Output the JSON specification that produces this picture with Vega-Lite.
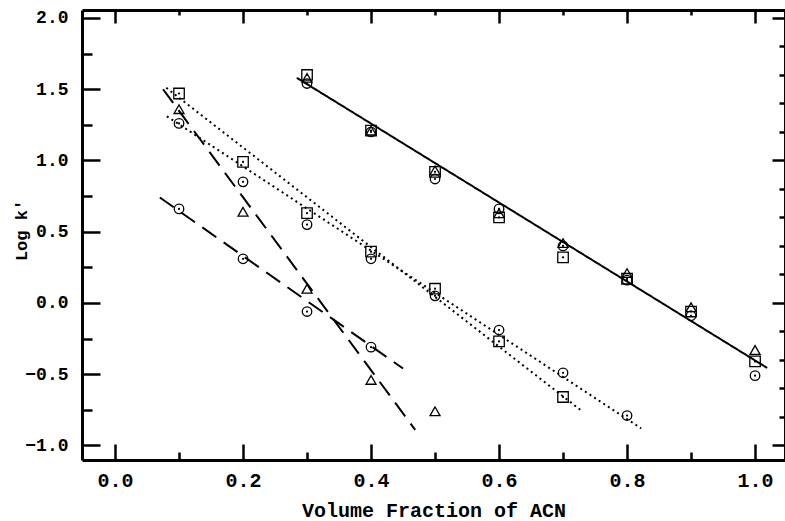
{
  "$schema": "https://vega.github.io/schema/vega-lite/v6.json",
  "autosize": "none",
  "width": 703,
  "height": 450,
  "padding": {"left": 82, "top": 10, "right": 0, "bottom": 61},
  "background": "white",
  "config": {
    "view": {"stroke": null},
    "axis": {
      "domainColor": "black", "domainWidth": 3, "tickColor": "black", "tickWidth": 2.5,
      "labelFont": "Liberation Mono", "labelFontWeight": "bold", "labelColor": "black",
      "titleFont": "Liberation Mono", "titleFontWeight": "bold", "titleColor": "black",
      "grid": false
    }
  },
  "datasets": {
    "lines": [
      {"line": "solid", "style": "solid", "x": 0.284, "y": 1.58},
      {"line": "solid", "style": "solid", "x": 1.019, "y": -0.456},
      {"line": "dot_sq", "style": "dotted", "x": 0.080, "y": 1.51},
      {"line": "dot_sq", "style": "dotted", "x": 0.727, "y": -0.75},
      {"line": "dot_ci", "style": "dotted", "x": 0.081, "y": 1.31},
      {"line": "dot_ci", "style": "dotted", "x": 0.822, "y": -0.88},
      {"line": "dash_tr", "style": "dashed", "x": 0.075, "y": 1.50},
      {"line": "dash_tr", "style": "dashed", "x": 0.469, "y": -0.89},
      {"line": "dash_ci", "style": "dashed", "x": 0.070, "y": 0.74},
      {"line": "dash_ci", "style": "dashed", "x": 0.450, "y": -0.46}
    ],
    "points": [
      {"x": 0.3, "y": 1.60, "m": "square"}, {"x": 0.4, "y": 1.21, "m": "square"}, {"x": 0.5, "y": 0.92, "m": "square"}, {"x": 0.6, "y": 0.60, "m": "square"}, {"x": 0.7, "y": 0.32, "m": "square"}, {"x": 0.8, "y": 0.17, "m": "square"}, {"x": 0.9, "y": -0.06, "m": "square"}, {"x": 1.0, "y": -0.41, "m": "square"},
      {"x": 0.3, "y": 1.58, "m": "triangle"}, {"x": 0.4, "y": 1.21, "m": "triangle"}, {"x": 0.5, "y": 0.93, "m": "triangle"}, {"x": 0.6, "y": 0.63, "m": "triangle"}, {"x": 0.7, "y": 0.42, "m": "triangle"}, {"x": 0.8, "y": 0.21, "m": "triangle"}, {"x": 0.9, "y": -0.03, "m": "triangle"}, {"x": 1.0, "y": -0.33, "m": "triangle"},
      {"x": 0.3, "y": 1.54, "m": "circle"}, {"x": 0.4, "y": 1.20, "m": "circle"}, {"x": 0.5, "y": 0.87, "m": "circle"}, {"x": 0.6, "y": 0.66, "m": "circle"}, {"x": 0.7, "y": 0.40, "m": "circle"}, {"x": 0.8, "y": 0.16, "m": "circle"}, {"x": 0.9, "y": -0.09, "m": "circle"}, {"x": 1.0, "y": -0.51, "m": "circle"},
      {"x": 0.1, "y": 1.36, "m": "triangle"}, {"x": 0.2, "y": 0.64, "m": "triangle"}, {"x": 0.3, "y": 0.10, "m": "triangle"}, {"x": 0.4, "y": -0.54, "m": "triangle"}, {"x": 0.5, "y": -0.76, "m": "triangle"},
      {"x": 0.1, "y": 0.66, "m": "circle"}, {"x": 0.2, "y": 0.31, "m": "circle"}, {"x": 0.3, "y": -0.06, "m": "circle"}, {"x": 0.4, "y": -0.31, "m": "circle"},
      {"x": 0.1, "y": 1.47, "m": "square"}, {"x": 0.2, "y": 0.99, "m": "square"}, {"x": 0.3, "y": 0.63, "m": "square"}, {"x": 0.4, "y": 0.36, "m": "square"}, {"x": 0.5, "y": 0.10, "m": "square"}, {"x": 0.6, "y": -0.27, "m": "square"}, {"x": 0.7, "y": -0.66, "m": "square"},
      {"x": 0.1, "y": 1.26, "m": "circle"}, {"x": 0.2, "y": 0.85, "m": "circle"}, {"x": 0.3, "y": 0.55, "m": "circle"}, {"x": 0.4, "y": 0.31, "m": "circle"}, {"x": 0.5, "y": 0.05, "m": "circle"}, {"x": 0.6, "y": -0.19, "m": "circle"}, {"x": 0.7, "y": -0.49, "m": "circle"}, {"x": 0.8, "y": -0.79, "m": "circle"}
    ]
  },
  "resolve": {"axis": {"x": "independent", "y": "independent"}},
  "layer": [
    {
      "data": {"name": "lines"},
      "mark": {"type": "line", "color": "black", "strokeWidth": 2},
      "encoding": {
        "x": {"field": "x", "type": "quantitative", "scale": {"domain": [-0.0516, 1.0468], "nice": false, "zero": false},
          "axis": {"orient": "bottom", "title": "Volume Fraction of ACN", "values": [0, 0.1, 0.2, 0.3, 0.4, 0.5, 0.6, 0.7, 0.8, 0.9, 1.0],
            "tickSize": {"condition": {"test": "round(datum.value*10) % 2 == 0", "value": -16}, "value": -8},
            "labelExpr": "round(datum.value*10) % 2 == 0 ? format(datum.value, '.1f') : ''",
            "labelFontSize": 20, "labelPadding": 26, "titleFontSize": 20, "titlePadding": 10}},
        "y": {"field": "y", "type": "quantitative", "scale": {"domain": [-1.102, 2.056], "nice": false, "zero": false},
          "axis": {"orient": "left", "title": "Log k'", "values": [-1, -0.75, -0.5, -0.25, 0, 0.25, 0.5, 0.75, 1, 1.25, 1.5, 1.75, 2],
            "tickSize": {"condition": {"test": "round(datum.value*4) % 2 == 0", "value": -18}, "value": -10},
            "labelExpr": "round(datum.value*4) % 2 == 0 ? format(datum.value, '.1f') : ''",
            "labelFontSize": 18, "labelPadding": 32, "titleFontSize": 17, "titlePadding": -6, "titleY": 220}},
        "detail": {"field": "line"},
        "strokeDash": {"field": "style", "type": "nominal", "scale": {"domain": ["solid", "dotted", "dashed"], "range": [[1, 0], [2, 3.5], [17, 9]]}, "legend": null}
      }
    },
    {
      "data": {"name": "points"},
      "mark": {"type": "point", "filled": false, "color": "black", "strokeWidth": 1.3, "opacity": 1},
      "encoding": {
        "x": {"field": "x", "type": "quantitative", "scale": {"domain": [-0.0516, 1.0468], "nice": false, "zero": false},
          "axis": {"orient": "top", "title": null, "labels": false, "values": [0, 0.1, 0.2, 0.3, 0.4, 0.5, 0.6, 0.7, 0.8, 0.9, 1.0],
            "tickSize": {"condition": {"test": "round(datum.value*10) % 2 == 0", "value": -13}, "value": -5}}},
        "y": {"field": "y", "type": "quantitative", "scale": {"domain": [-1.102, 2.056], "nice": false, "zero": false},
          "axis": {"orient": "right", "title": null, "labels": false, "values": [-1, -0.8, -0.6, -0.4, -0.2, 0, 0.2, 0.4, 0.6, 0.8, 1, 1.2, 1.4, 1.6, 1.8, 2],
            "tickSize": {"condition": {"test": "abs(datum.value - round(datum.value)) < 0.01", "value": -13}, "value": -6}}},
        "shape": {"field": "m", "type": "nominal", "scale": {"domain": ["square", "triangle", "circle"], "range": ["square", "triangle-up", "circle"]}, "legend": null},
        "size": {"field": "m", "type": "nominal", "scale": {"domain": ["square", "triangle", "circle"], "range": [110, 90, 60]}, "legend": null}
      }
    },
    {
      "data": {"name": "points"},
      "transform": [{"filter": "datum.m != 'triangle'"}],
      "mark": {"type": "circle", "color": "black", "size": 5, "opacity": 1},
      "encoding": {
        "x": {"field": "x", "type": "quantitative", "axis": null},
        "y": {"field": "y", "type": "quantitative", "axis": null}
      }
    }
  ]
}
